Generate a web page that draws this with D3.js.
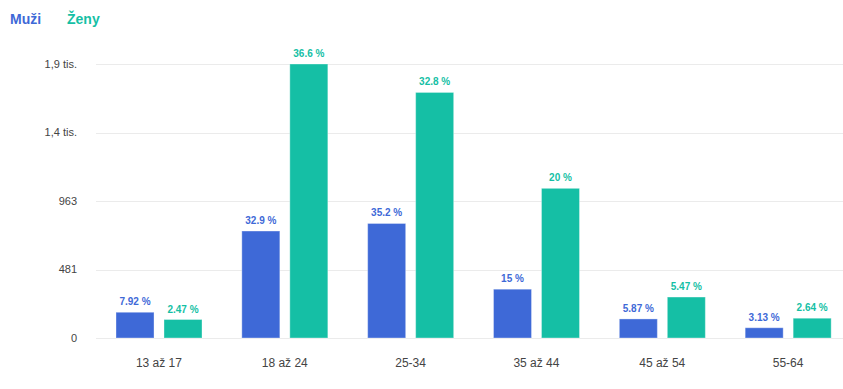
<!DOCTYPE html>
<html>
<head>
<meta charset="utf-8">
<script src="https://cdn.jsdelivr.net/npm/d3@7"></script>
<style>
  body { margin: 0; background: #fff; font-family: "Liberation Sans", Arial, sans-serif; }
  .grid line { stroke: #ebebeb; }
  .ylab, .xlab { fill: #444; }
</style>
</head>
<body>
<div id="chart"></div>
<script>
// age groups
const categories = ["13 až 17", "18 až 24", "25-34", "35 až 44", "45 až 54", "55-64"];
const seriesNames = ["Muži", "Ženy"];
// counts
const muzi = [181, 752, 805, 343, 134, 72];
const zeny = [130, 1926, 1726, 1052, 288, 139];
// percentage labels shown on top of bars
const muziPct = ["7.92 %", "32.9 %", "35.2 %", "15 %", "5.87 %", "3.13 %"];
const zenyPct = ["2.47 %", "36.6 %", "32.8 %", "20 %", "5.47 %", "2.64 %"];
const tickValues = [0, 481, 963, 1444, 1926];
const tickLabels = ["0", "481", "963", "1,4 tis.", "1,9 tis."];

const colors = { "Muži": "#3e69d7", "Ženy": "#15bfa5" };

const W = 843, H = 389;
const svg = d3.select("#chart").append("svg")
  .attr("width", W)
  .attr("height", H);

const x0 = d3.scaleBand()
  .domain(categories)
  .range([96, 851])
  .padding(0);

const x1 = d3.scaleBand()
  .domain(seriesNames)
  .range([20, 106])
  .paddingInner(0.208);

const y = d3.scaleLinear()
  .domain([0, 1926])
  .range([338, 64]);

// gridlines
svg.append("g")
  .attr("class", "grid")
  .selectAll("line")
  .data(tickValues)
  .enter().append("line")
  .attr("x1", 96)
  .attr("x2", W)
  .attr("y1", d => Math.round(y(d)) + 0.5)
  .attr("y2", d => Math.round(y(d)) + 0.5);

// y labels
svg.append("g")
  .selectAll("text")
  .data(tickValues)
  .enter().append("text")
  .attr("class", "ylab")
  .attr("x", 77)
  .attr("y", d => y(d))
  .attr("dy", "0.35em")
  .attr("text-anchor", "end")
  .style("font-size", "11px")
  .text((d, i) => tickLabels[i]);

// x labels
svg.append("g")
  .selectAll("text")
  .data(categories)
  .enter().append("text")
  .attr("class", "xlab")
  .attr("x", d => x0(d) + x0.bandwidth() / 2)
  .attr("y", 367)
  .attr("text-anchor", "middle")
  .style("font-size", "12px")
  .text(d => d);

const rows = categories.map((c, i) => ({
  cat: c,
  vals: [
    { key: "Muži", v: muzi[i], pct: muziPct[i] },
    { key: "Ženy", v: zeny[i], pct: zenyPct[i] }
  ]
}));

const groups = svg.append("g")
  .selectAll("g")
  .data(rows)
  .enter().append("g")
  .attr("transform", d => "translate(" + x0(d.cat) + ",0)");

groups.selectAll("rect")
  .data(d => d.vals)
  .enter().append("rect")
  .attr("x", d => x1(d.key))
  .attr("y", d => y(d.v))
  .attr("width", x1.bandwidth())
  .attr("height", d => y(0) - y(d.v))
  .attr("fill", d => colors[d.key])
  .attr("stroke", "rgba(255,255,255,0.35)")
  .attr("stroke-width", 1);

groups.selectAll("text")
  .data(d => d.vals)
  .enter().append("text")
  .attr("x", d => x1(d.key) + x1.bandwidth() / 2)
  .attr("y", d => y(d.v) - 7)
  .attr("text-anchor", "middle")
  .attr("fill", d => colors[d.key])
  .style("font-size", "10px")
  .style("font-weight", "bold")
  .text(d => d.pct);

// legend
const legend = svg.append("g");
legend.selectAll("text")
  .data(seriesNames)
  .enter().append("text")
  .attr("x", (d, i) => i === 0 ? 10 : 67)
  .attr("y", 24)
  .attr("fill", d => colors[d])
  .style("font-size", "14px")
  .style("font-weight", "bold")
  .text(d => d);
</script>
</body>
</html>
